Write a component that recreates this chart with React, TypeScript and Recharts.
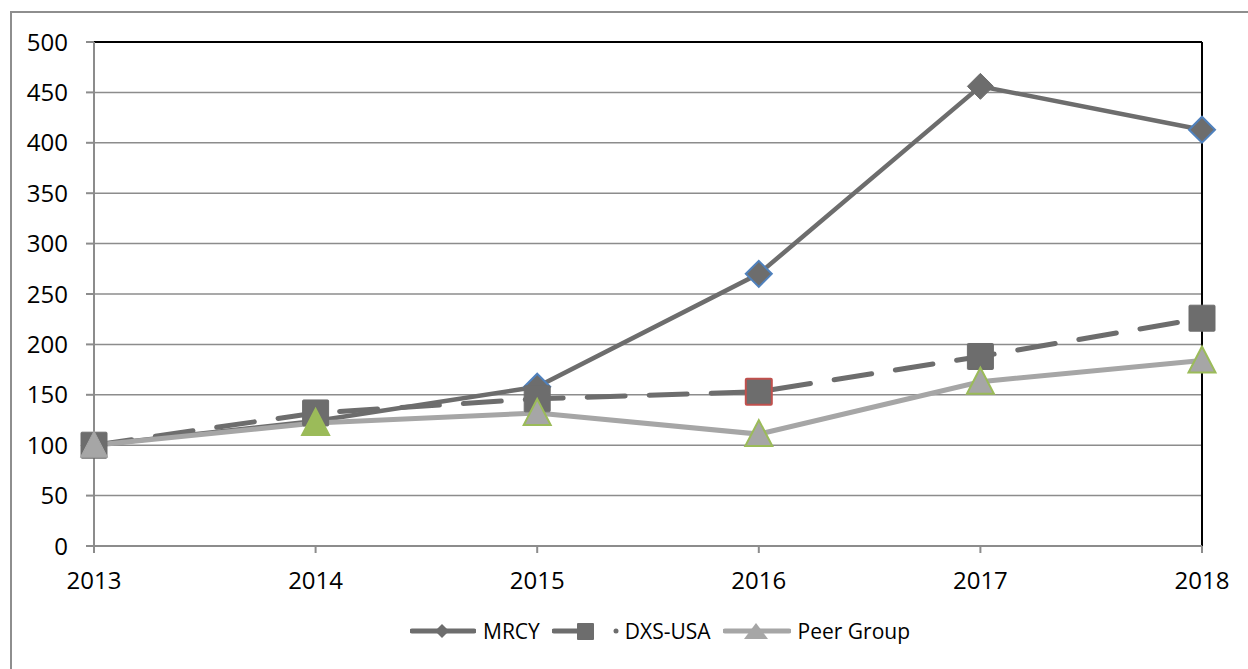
import { LineChart, Line, XAxis, YAxis, CartesianGrid, ReferenceLine } from "recharts";

const years = ["2013", "2014", "2015", "2016", "2017", "2018"];
const mrcy = [100, 124, 158, 270, 456, 413];
const dxsUsa = [100, 132, 146, 153, 188, 226];
const peerGroup = [100, 122, 132, 111, 163, 184];
const yTicks = [0, 50, 100, 150, 200, 250, 300, 350, 400, 450, 500];

const data = years.map((year, i) => ({
  year,
  mrcy: mrcy[i],
  dxs: dxsUsa[i],
  peer: peerGroup[i],
}));

const DARK = "#6d6d6d";
const LIGHT = "#a6a6a6";
const BLUE = "#4f81bd";
const RED = "#c0504d";
const GREEN = "#9bbb59";
const GRID = "#8c8c8c";
const FONT = "'Open Sans', sans-serif";

// marker outline per point, as drawn in the original
const mrcyEdge = [null, null, BLUE, BLUE, null, BLUE];
const dxsEdge = [null, null, null, RED, null, null];
const peerEdge = [null, GREEN, GREEN, GREEN, GREEN, GREEN];
const peerFill = [LIGHT, GREEN, LIGHT, LIGHT, LIGHT, LIGHT];

const Diamond = (props: any) => {
  const { cx, cy, index } = props;
  const r = 13;
  const edge = mrcyEdge[index];
  return (
    <polygon
      key={`d${index}`}
      points={`${cx},${cy - r} ${cx + r},${cy} ${cx},${cy + r} ${cx - r},${cy}`}
      fill={DARK}
      stroke={edge ?? DARK}
      strokeWidth={edge ? 2 : 1}
    />
  );
};

const Square = (props: any) => {
  const { cx, cy, index } = props;
  const s = 26;
  const edge = dxsEdge[index];
  return (
    <rect
      key={`s${index}`}
      x={cx - s / 2}
      y={cy - s / 2}
      width={s}
      height={s}
      rx={1}
      fill={DARK}
      stroke={edge ?? DARK}
      strokeWidth={edge ? 2 : 1}
    />
  );
};

const Triangle = (props: any) => {
  const { cx, cy, index } = props;
  const edge = peerEdge[index];
  return (
    <polygon
      key={`t${index}`}
      points={`${cx},${cy - 14} ${cx + 13.5},${cy + 12} ${cx - 13.5},${cy + 12}`}
      fill={peerFill[index]}
      stroke={edge ?? LIGHT}
      strokeWidth={edge ? 2 : 1}
    />
  );
};

function LegendRow() {
  const text = { fontFamily: FONT, fontSize: 21, color: "#000", lineHeight: "22px" };
  return (
    <div
      style={{
        position: "absolute",
        left: 410,
        top: 620,
        display: "flex",
        alignItems: "center",
        whiteSpace: "nowrap",
      }}
    >
      <svg width={66} height={20}>
        <line x1={2} y1={10} x2={64} y2={10} stroke={DARK} strokeWidth={5} strokeLinecap="round" />
        <polygon points="32,3 39,10 32,17 25,10" fill={DARK} />
      </svg>
      <span style={{ ...text, marginLeft: 7 }}>MRCY</span>
      <svg width={68} height={20} style={{ marginLeft: 12 }}>
        <line x1={2} y1={10} x2={28} y2={10} stroke={DARK} strokeWidth={5} strokeLinecap="round" />
        <rect x={25} y={2} width={17} height={17} rx={1} fill={DARK} />
        <circle cx={64} cy={10} r={2.5} fill={DARK} />
      </svg>
      <span style={{ ...text, marginLeft: 5 }}>DXS-USA</span>
      <svg width={68} height={20} style={{ marginLeft: 12 }}>
        <line x1={2} y1={10} x2={66} y2={10} stroke={LIGHT} strokeWidth={5} strokeLinecap="round" />
        <polygon points="33,2 45,18 21,18" fill={LIGHT} />
      </svg>
      <span style={{ ...text, marginLeft: 7 }}>Peer Group</span>
    </div>
  );
}

export default function App() {
  return (
    <div
      style={{
        position: "absolute",
        left: 0,
        top: 0,
        width: 1248,
        height: 669,
        overflow: "hidden",
        background: "#fff",
      }}
    >
      <div
        style={{
          position: "absolute",
          left: 10,
          top: 11,
          width: 1400,
          height: 800,
          border: "2px solid #8e8e8e",
        }}
      />
      <div style={{ position: "absolute", left: 0, top: 0 }}>
        <LineChart
          width={1248}
          height={669}
          data={data}
          margin={{ top: 42, right: 46, bottom: 83, left: 10 }}
        >
          <CartesianGrid vertical={false} stroke={GRID} strokeWidth={1.5} />
          <ReferenceLine y={500} stroke="#000" strokeWidth={2} />
          <ReferenceLine x="2018" stroke="#000" strokeWidth={2} />
          <XAxis
            dataKey="year"
            height={40}
            axisLine={{ stroke: GRID, strokeWidth: 2 }}
            tickLine={{ stroke: GRID, strokeWidth: 2 }}
            tickSize={7}
            tickMargin={19}
            tick={{ fontFamily: FONT, fontSize: 24, fill: "#000" }}
            interval={0}
          />
          <YAxis
            width={84}
            domain={[0, 500]}
            ticks={yTicks}
            interval={0}
            axisLine={{ stroke: GRID, strokeWidth: 2 }}
            tickLine={{ stroke: GRID, strokeWidth: 2 }}
            tickSize={8}
            tickMargin={18}
            tick={{ fontFamily: FONT, fontSize: 24, fill: "#000" }}
          />
          <Line
            dataKey="mrcy"
            stroke={DARK}
            strokeWidth={4.5}
            dot={Diamond}
            activeDot={false}
            isAnimationActive={false}
          />
          <Line
            dataKey="dxs"
            stroke={DARK}
            strokeWidth={5}
            strokeDasharray="38 24"
            strokeLinecap="round"
            dot={Square}
            activeDot={false}
            isAnimationActive={false}
          />
          <Line
            dataKey="peer"
            stroke={LIGHT}
            strokeWidth={5}
            dot={Triangle}
            activeDot={false}
            isAnimationActive={false}
          />
        </LineChart>
      </div>
      <LegendRow />
    </div>
  );
}
